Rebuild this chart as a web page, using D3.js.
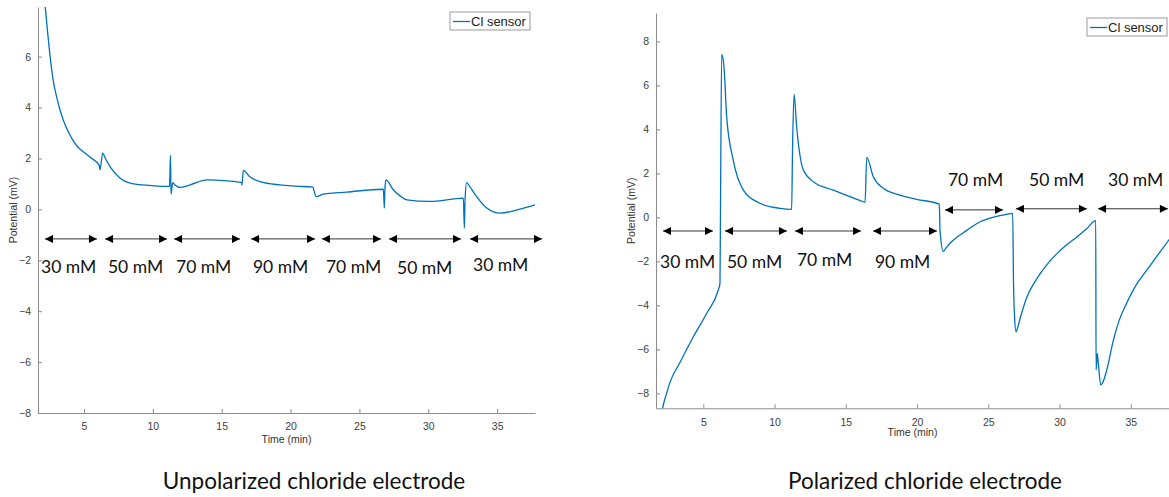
<!DOCTYPE html>
<meta charset="utf-8">
<script src="https://d3js.org/d3.v7.min.js"></script>
<style>
  body { margin: 0; background: #fff; }
</style>
<div id="chart"></div>
<script>

// Unpolarized electrode trace (time in min, potential in mV)
const unpolTime = [2.05, 2.17, 2.35, 2.53, 2.77, 3.0, 3.21, 3.5, 3.86, 4.47, 5.0, 5.44, 6.11, 6.16, 6.36, 6.53, 6.89, 7.61, 8.58, 9.79, 11.21,
  11.28, 11.32, 11.44, 11.61, 11.97, 12.7, 13.91, 15.36, 16.45, 16.47, 16.57, 17.06, 17.78, 19.23, 20.45, 21.61, 21.85, 22.38,
  24.08, 26.74, 26.81, 26.85, 26.93, 27.46, 27.95, 28.44, 30.13, 32.55, 32.62, 32.67, 32.79, 33.03, 33.52, 34.25, 35.21, 36.66, 37.75];
const unpolPotential = [8.3, 8.0, 7.0, 6.05, 5.05, 4.45, 4.0, 3.5, 3.05, 2.5, 2.24, 2.05, 1.72, 1.55, 2.21, 2.03, 1.68, 1.23, 1.0, 0.94, 0.9,
  2.12, 0.6, 1.05, 0.96, 0.86, 0.96, 1.16, 1.12, 1.05, 0.95, 1.53, 1.27, 1.09, 0.96, 0.91, 0.87, 0.5, 0.6,
  0.68, 0.79, 0.05, 0.8, 1.16, 0.77, 0.53, 0.37, 0.31, 0.44, -0.74, 0.37, 1.05, 0.88, 0.5, 0.05, -0.15, 0.01, 0.18];

// Polarized electrode trace
const polTime = [2.1, 2.15, 2.4, 2.66, 3.36, 4.3, 5.24, 6.05, 6.17, 6.21, 6.29, 6.45, 6.64, 7.1, 7.81, 8.98, 10.38, 11.2, 11.26,
  11.37, 11.55, 12.02, 12.72, 14.12, 16.23, 16.35, 16.47, 16.93, 17.63, 18.8, 19.97, 21.56, 21.61, 21.84, 22.0, 22.31, 22.7, 23.25,
  23.8, 24.42, 25.0, 25.59, 26.2, 26.71, 26.77, 26.85, 26.94, 27.02, 27.23, 27.69, 28.2, 28.63, 29.2, 29.8, 30.5, 31.2, 31.9, 32.54,
  32.56, 32.65, 32.72, 32.89, 33.0, 33.31, 33.77, 34.2, 34.71, 35.4, 36.12, 36.9, 37.7];
const polPotential = [-8.9, -8.68, -8.05, -7.5, -6.6, -5.43, -4.36, -3.3, -3.0, 0.8, 7.41, 6.85, 4.57, 2.6, 1.24, 0.64, 0.41, 0.36, 3.06,
  5.59, 4.12, 2.15, 1.62, 1.24, 0.71, 0.68, 2.73, 1.85, 1.32, 1.01, 0.82, 0.6, -0.58, -1.55, -1.42, -1.18, -0.95, -0.7,
  -0.45, -0.2, -0.06, 0.04, 0.12, 0.18, -3.0, -4.6, -5.2, -5.1, -4.6, -3.65, -3.0, -2.57, -2.08, -1.66, -1.25, -0.9, -0.52, -0.15,
  -6.94, -6.18, -6.64, -7.62, -7.55, -6.95, -5.6, -4.65, -3.9, -3.05, -2.4, -1.7, -1.0];

// ticks
const xTicks = [5, 10, 15, 20, 25, 30, 35];
const unpolYTicks = [-8, -6, -4, -2, 0, 2, 4, 6];
const polYTicks = [-8, -6, -4, -2, 0, 2, 4, 6, 8];

// concentration steps (annotation arrows, time in min)
const concLabels = ["30 mM", "50 mM", "70 mM", "90 mM", "70 mM", "50 mM", "30 mM"];
const unpolStepStart = [2.17, 6.53, 11.54, 17.13, 22.28, 27.15, 33.03];
const unpolStepEnd = [5.94, 11.03, 16.33, 21.78, 26.57, 32.38, 38.26];
const unpolArrowLevel = [-1.16, -1.16, -1.16, -1.16, -1.16, -1.16, -1.16];
const unpolLabelTime = [1.88, 6.74, 11.68, 17.27, 22.57, 27.73, 33.25];
const unpolLabelLevel = [-2.5, -2.5, -2.5, -2.5, -2.5, -2.54, -2.42];

const polStepStart = [2.17, 6.52, 11.43, 16.91, 21.96, 26.94, 32.7];
const polStepEnd = [5.68, 10.87, 16.07, 21.4, 26.03, 31.92, 37.6];
const polArrowLevel = [-0.62, -0.62, -0.62, -0.62, 0.34, 0.39, 0.39];
const polLabelTime = [1.96, 6.66, 11.57, 17.04, 22.17, 27.86, 33.4];
const polLabelLevel = [-2.29, -2.29, -2.2, -2.3, 1.42, 1.42, 1.42];

const panelTitles = ["Unpolarized chloride electrode", "Polarized chloride electrode"];
const seriesName = "Cl sensor";

const W = 1169, H = 497;
const svg = d3.select("#chart").append("svg")
  .attr("width", W).attr("height", H)
  .style("font-family", "'Liberation Sans', Arial, sans-serif");

const defs = svg.append("defs");
defs.append("marker").attr("id", "head").attr("viewBox", "0 0 10 10")
  .attr("refX", 10).attr("refY", 5)
  .attr("markerWidth", 9).attr("markerHeight", 8)
  .attr("markerUnits", "userSpaceOnUse")
  .attr("orient", "auto-start-reverse")
  .append("path").attr("d", "M0,0L10,5L0,10Z").attr("fill", "#000");

function drawPanel(p) {
  const x = d3.scaleLinear().domain(p.xDomain).range([p.left, p.right]);
  const y = d3.scaleLinear().domain(p.yDomain).range([p.bottom, p.top]);

  defs.append("clipPath").attr("id", p.id + "-clip")
    .append("rect").attr("x", p.left).attr("y", p.top)
    .attr("width", p.right - p.left).attr("height", p.bottom - p.top);

  const g = svg.append("g");

  // x axis, ticks inward like matlab
  const xa = g.append("g").attr("transform", `translate(0,${p.bottom})`)
    .call(d3.axisBottom(x).tickValues(xTicks).tickSizeInner(-4).tickSizeOuter(0).tickPadding(10));
  xa.select(".domain").attr("stroke", "#8c8c8c");
  xa.selectAll(".tick line").attr("stroke", "#8c8c8c");
  xa.selectAll("text").attr("fill", "#404040").style("font-size", "10.5px");

  const ya = g.append("g").attr("transform", `translate(${p.left},0)`)
    .call(d3.axisLeft(y).tickValues(p.yTicks).tickSizeInner(-4).tickSizeOuter(0).tickPadding(7));
  ya.select(".domain").attr("stroke", "#8c8c8c");
  ya.selectAll(".tick line").attr("stroke", "#8c8c8c");
  ya.selectAll("text").attr("fill", "#404040").style("font-size", "10.5px");

  g.append("text").attr("x", (p.left + p.right) / 2).attr("y", p.bottom + p.xLabelGap)
    .attr("text-anchor", "middle").attr("fill", "#333").style("font-size", "10.5px")
    .text("Time (min)");
  g.append("text")
    .attr("transform", `translate(${p.left - p.yLabelGap},${(p.top + p.bottom) / 2}) rotate(-90)`)
    .attr("text-anchor", "middle").attr("fill", "#333").style("font-size", "10.5px")
    .text("Potential (mV)");

  // data line
  const pts = p.time.map((t, i) => [t, p.value[i]]);
  g.append("path").datum(pts)
    .attr("clip-path", `url(#${p.id}-clip)`)
    .attr("fill", "none").attr("stroke", "#0072BD").attr("stroke-width", 1.3)
    .attr("d", d3.line().x(d => x(d[0])).y(d => y(d[1])).curve(d3.curveMonotoneX));

  // concentration arrows
  g.selectAll(".arrow").data(p.stepStart).join("line")
    .attr("x1", (d, i) => x(d)).attr("x2", (d, i) => x(p.stepEnd[i]))
    .attr("y1", (d, i) => y(p.arrowLevel[i])).attr("y2", (d, i) => y(p.arrowLevel[i]))
    .attr("stroke", "#333").attr("stroke-width", 1)
    .attr("marker-start", "url(#head)").attr("marker-end", "url(#head)");

  g.selectAll(".conc").data(concLabels).join("text")
    .attr("x", (d, i) => x(p.labelTime[i])).attr("y", (d, i) => y(p.labelLevel[i]))
    .attr("fill", "#111").style("font-family", "Lato, 'Open Sans', sans-serif").style("font-size", "17.5px")
    .text(d => d);

  // legend
  const lg = g.append("g").attr("transform", `translate(${p.legend[0]},${p.legend[1]})`);
  lg.append("rect").attr("width", 80).attr("height", 18)
    .attr("fill", "#fff").attr("stroke", "#999").attr("stroke-width", 1);
  lg.append("line").attr("x1", 3).attr("x2", 20).attr("y1", 9.5).attr("y2", 9.5)
    .attr("stroke", "#0072BD").attr("stroke-width", 1.3);
  lg.append("text").attr("x", 21).attr("y", 14).attr("fill", "#222")
    .style("font-size", "13px").text(seriesName);

  // panel caption
  svg.append("text").attr("x", p.titleX).attr("y", 489)
    .attr("text-anchor", "middle").attr("fill", "#111")
    .style("font-family", "Lato, 'Open Sans', sans-serif").style("font-size", "22.5px")
    .text(p.title);
}

drawPanel({
  id: "unpol", left: 38, right: 535, top: 7, bottom: 413,
  xDomain: [1.66, 37.75], yDomain: [-8, 7.95], yTicks: unpolYTicks,
  time: unpolTime, value: unpolPotential,
  stepStart: unpolStepStart, stepEnd: unpolStepEnd, arrowLevel: unpolArrowLevel,
  labelTime: unpolLabelTime, labelLevel: unpolLabelLevel,
  legend: [450, 12], xLabelGap: 30, yLabelGap: 21,
  title: panelTitles[0], titleX: 314
});

drawPanel({
  id: "pol", left: 656, right: 1169, top: 13, bottom: 408.3,
  xDomain: [1.68, 37.68], yDomain: [-8.68, 9.29], yTicks: polYTicks,
  time: polTime, value: polPotential,
  stepStart: polStepStart, stepEnd: polStepEnd, arrowLevel: polArrowLevel,
  labelTime: polLabelTime, labelLevel: polLabelLevel,
  legend: [1087, 18], xLabelGap: 28, yLabelGap: 21,
  title: panelTitles[1], titleX: 925
});
</script>
